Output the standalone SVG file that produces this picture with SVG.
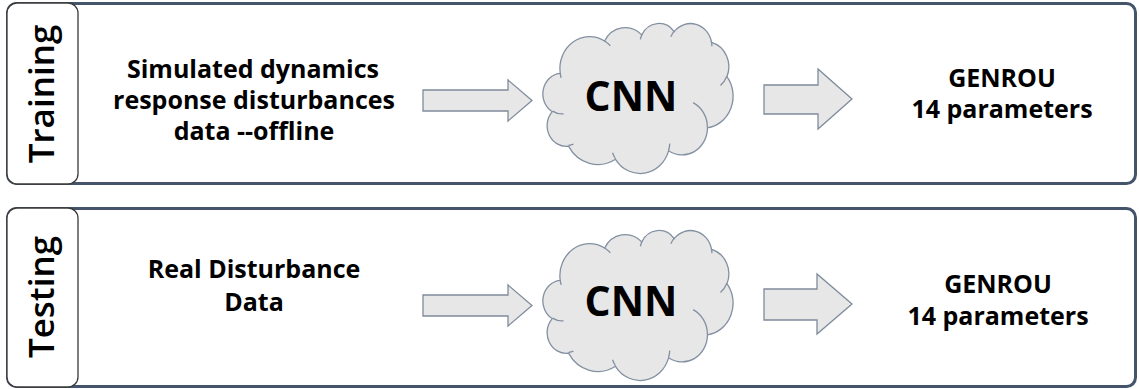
<svg xmlns="http://www.w3.org/2000/svg" width="1139" height="389" viewBox="0 0 1139 389">
<defs>
<style>
.panel{fill:#ffffff;stroke:#44546A;stroke-width:3}
.tab{fill:#ffffff;stroke:#3a3a3a;stroke-width:1.3}
.tabtxt{font-family:"Open Sans","Liberation Sans",sans-serif;font-weight:600;font-size:35px;fill:#000}
.txt{font-family:"Open Sans","Liberation Sans",sans-serif;font-weight:700;font-size:25px;fill:#000;text-anchor:middle}
.cnn{font-family:"Open Sans","Liberation Sans",sans-serif;font-weight:700;font-size:41px;fill:#000;text-anchor:middle}
.cloud{fill:#E7E7E7;stroke:#8390A2;stroke-width:1.3;vector-effect:non-scaling-stroke}
.inner{fill:none;stroke:#8390A2;stroke-width:1.3;vector-effect:non-scaling-stroke}
.arrow{fill:#E7E7E7;stroke:#7F8B9B;stroke-width:1.3;stroke-linejoin:miter}
</style>
<g id="cloudShape">
<path class="cloud" d="M3900,14370 A6753,9190 0 0 1 14004,5202 A5333,7267 0 0 1 22456,3430 A4365,5945 0 0 1 29834,2479 A4857,6595 0 0 1 38320,5573 A5333,7273 0 0 1 41820,15457 A6775,9220 0 0 1 37406,30199 A5785,7867 0 0 1 28557,36809 A6752,9215 0 0 1 16482,39262 A7720,10543 0 0 1 5807,35468 A4360,5918 0 0 1 2115,25546 A4345,5945 0 0 1 3865,14503 Z"/>
<path class="inner" d="M4693,26177 A4345,5945 0 0 1 2160,25380 M6928,34899 A4360,5918 0 0 1 5819,35281 M16478,39090 A6752,9215 0 0 1 15810,37349 M28827,34751 A6752,9215 0 0 1 28561,36660 M34129,22954 A5785,7867 0 0 1 37381,30090 M41798,15354 A5333,7273 0 0 1 40350,18031 M38324,5426 A4857,6595 0 0 1 38400,6690 M29078,3952 A4857,6595 0 0 1 29819,2342 M22141,4720 A4365,5945 0 0 1 22500,3331 M14000,5192 A6753,9190 0 0 1 15301,6542 M4127,15789 A6753,9190 0 0 1 3900,14370"/>
</g>
</defs>

<g id="training-panel">
<rect class="panel" x="7.5" y="3.5" width="1128" height="180" rx="9"/>
<rect class="tab" x="7" y="3" width="71" height="181" rx="10"/>
<text class="tabtxt" transform="translate(54,94) rotate(-90)" text-anchor="middle">Training</text>
</g>

<g id="testing-panel">
<rect class="panel" x="7.5" y="208.5" width="1128" height="178" rx="9"/>
<rect class="tab" x="7" y="208" width="71" height="179" rx="10"/>
<text class="tabtxt" transform="translate(54,297) rotate(-90)" text-anchor="middle">Testing</text>
</g>

<g id="training-input">
<text class="txt" x="253" y="78">Simulated dynamics</text>
<text class="txt" x="254" y="109">response disturbances</text>
<text class="txt" x="254" y="140">data --offline</text>
</g>

<g id="training-cnn">
<use href="#cloudShape" transform="translate(543,23) scale(0.004398,0.003472)"/>
<text class="cnn" x="631" y="111">CNN</text>
</g>

<g id="training-output">
<text class="txt" x="1002" y="87">GENROU</text>
<text class="txt" x="1002" y="118">14 parameters</text>
</g>

<g id="testing-input">
<text class="txt" x="254" y="278">Real Disturbance</text>
<text class="txt" x="254" y="311">Data</text>
</g>

<g id="testing-cnn">
<use href="#cloudShape" transform="translate(543,230) scale(0.004398,0.003472)"/>
<text class="cnn" x="631" y="316">CNN</text>
</g>

<g id="testing-output">
<text class="txt" x="998" y="293">GENROU</text>
<text class="txt" x="998" y="325">14 parameters</text>
</g>

<g id="connectors">
<polygon class="arrow" points="423,90 508,90 508,80 532,100.5 508,121 508,111 423,111"/>
<polygon class="arrow" points="764,85 818,85 818,69 852,99 818,129 818,114 764,114"/>
<polygon class="arrow" points="423,295 508,295 508,285 532,305.5 508,326 508,316 423,316"/>
<polygon class="arrow" points="764,289 817,289 817,274 852,304 817,334 817,320 764,320"/>
</g>
</svg>
